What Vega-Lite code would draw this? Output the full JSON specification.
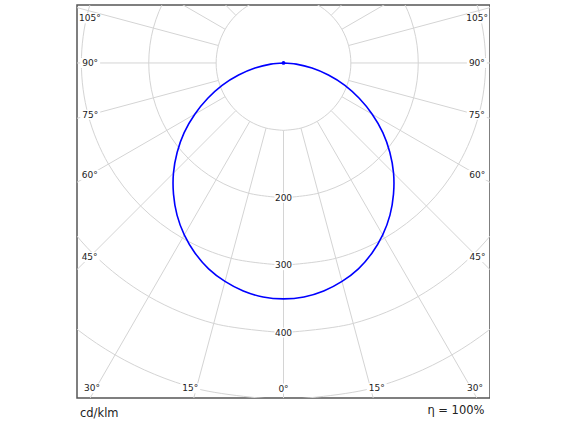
{
  "$schema": "https://vega.github.io/schema/vega-lite/v6.json",
  "width": 413,
  "height": 393,
  "padding": {"left": 77, "top": 5, "right": 0, "bottom": 0},
  "autosize": {"type": "pad"},
  "background": "white",
  "title": {
    "text": "cd/klm",
    "orient": "bottom",
    "anchor": "start",
    "dx": 3,
    "offset": -8,
    "font": "DejaVu Sans",
    "fontSize": 11.5,
    "fontWeight": "normal",
    "color": "#222222"
  },
  "datasets": {
    "curve": [
      {"a": -90, "cd": 0}, {"a": -85, "cd": 19}, {"a": -80, "cd": 43}, {"a": -75, "cd": 69},
      {"a": -70, "cd": 97}, {"a": -65, "cd": 124}, {"a": -60, "cd": 152}, {"a": -55, "cd": 180},
      {"a": -50, "cd": 206}, {"a": -45, "cd": 231}, {"a": -40, "cd": 254}, {"a": -35, "cd": 275.5},
      {"a": -30, "cd": 294.5}, {"a": -25, "cd": 311}, {"a": -20, "cd": 325}, {"a": -15, "cd": 335.5},
      {"a": -10, "cd": 343.5}, {"a": -5, "cd": 348.5}, {"a": 0, "cd": 350}, {"a": 5, "cd": 348.5},
      {"a": 10, "cd": 343.5}, {"a": 15, "cd": 335.5}, {"a": 20, "cd": 325}, {"a": 25, "cd": 311},
      {"a": 30, "cd": 294.5}, {"a": 35, "cd": 275.5}, {"a": 40, "cd": 254}, {"a": 45, "cd": 231},
      {"a": 50, "cd": 206}, {"a": 55, "cd": 180}, {"a": 60, "cd": 152}, {"a": 65, "cd": 124},
      {"a": 70, "cd": 97}, {"a": 75, "cd": 69}, {"a": 80, "cd": 43}, {"a": 85, "cd": 19},
      {"a": 90, "cd": 0}
    ],
    "rings": [
      {"r": 100, "a": [0, 15, 30, 45, 60, 75, 90, 105, 120, 135, 150, 165, 180, 195, 210, 225, 240, 255, 270, 285, 300, 315, 330, 345, 360]},
      {"r": 200, "a": [0, 15, 30, 45, 60, 75, 90, 105, 120, 135, 150, 165, 180, 195, 210, 225, 240, 255, 270, 285, 300, 315, 330, 345, 360]},
      {"r": 300, "a": [0, 15, 30, 45, 60, 75, 90, 105, 120, 135, 150, 165, 180, 195, 210, 225, 240, 255, 270, 285, 300, 315, 330, 345, 360]},
      {"r": 400, "a": [0, 15, 30, 45, 60, 75, 90, 105, 120, 135, 150, 165, 180, 195, 210, 225, 240, 255, 270, 285, 300, 315, 330, 345, 360]},
      {"r": 500, "a": [0, 15, 30, 45, 60, 75, 90, 105, 120, 135, 150, 165, 180, 195, 210, 225, 240, 255, 270, 285, 300, 315, 330, 345, 360]}
    ],
    "spokes": [
      {"a": 0, "r": [100, 700]}, {"a": 15, "r": [100, 700]}, {"a": 30, "r": [100, 700]},
      {"a": 45, "r": [100, 700]}, {"a": 60, "r": [100, 700]}, {"a": 75, "r": [100, 700]},
      {"a": 90, "r": [100, 700]}, {"a": 105, "r": [100, 700]}, {"a": 120, "r": [100, 700]},
      {"a": 135, "r": [100, 700]}, {"a": 150, "r": [100, 700]}, {"a": 165, "r": [100, 700]},
      {"a": 180, "r": [100, 700]}, {"a": 195, "r": [100, 700]}, {"a": 210, "r": [100, 700]},
      {"a": 225, "r": [100, 700]}, {"a": 240, "r": [100, 700]}, {"a": 255, "r": [100, 700]},
      {"a": 270, "r": [100, 700]}, {"a": 285, "r": [100, 700]}, {"a": 300, "r": [100, 700]},
      {"a": 315, "r": [100, 700]}, {"a": 330, "r": [100, 700]}, {"a": 345, "r": [100, 700]}
    ],
    "angleLabels": [
      {"text": "105°", "a": -103, "r": 295}, {"text": "90°", "a": -90, "r": 287},
      {"text": "75°", "a": -75, "r": 297}, {"text": "60°", "a": -60, "r": 332},
      {"text": "45°", "a": -45, "r": 407}, {"text": "30°", "a": -30.5, "r": 560},
      {"text": "15°", "a": -16, "r": 502}, {"text": "0°", "a": 0, "r": 483},
      {"text": "15°", "a": 16, "r": 502}, {"text": "30°", "a": 30.5, "r": 560},
      {"text": "45°", "a": 45, "r": 407}, {"text": "60°", "a": 60, "r": 332},
      {"text": "75°", "a": 75, "r": 297}, {"text": "90°", "a": 90, "r": 287},
      {"text": "105°", "a": 103, "r": 295}
    ],
    "radiusLabels": [
      {"text": "200", "a": 0, "r": 200},
      {"text": "300", "a": 0, "r": 300},
      {"text": "400", "a": 0, "r": 400}
    ]
  },
  "encoding": {
    "x": {
      "field": "x",
      "type": "quantitative",
      "scale": {"domain": [-306.5, 306.5], "nice": false, "zero": false},
      "axis": {
        "title": "η = 100%",
        "titleAnchor": "end",
        "titleAlign": "right",
        "titleX": 407,
        "labels": false,
        "ticks": false,
        "domain": false,
        "grid": false,
        "titleFont": "DejaVu Sans",
        "titleFontSize": 11.5,
        "titleFontWeight": "normal",
        "titleColor": "#222222",
        "titlePadding": 6
      }
    },
    "y": {
      "field": "y",
      "type": "quantitative",
      "scale": {"domain": [-497, 86], "nice": false, "zero": false},
      "axis": null
    }
  },
  "layer": [
    {
      "data": {"name": "rings"},
      "transform": [
        {"flatten": ["a"]},
        {"calculate": "datum.r * sin(datum.a * PI / 180)", "as": "x"},
        {"calculate": "-datum.r * cos(datum.a * PI / 180)", "as": "y"}
      ],
      "mark": {"type": "line", "clip": true, "stroke": "#d4d4d4", "strokeWidth": 1, "interpolate": "catmull-rom"},
      "encoding": {
        "detail": {"field": "r", "type": "nominal"},
        "order": {"field": "a", "type": "quantitative"}
      }
    },
    {
      "data": {"name": "spokes"},
      "transform": [
        {"flatten": ["r"]},
        {"calculate": "datum.r * sin(datum.a * PI / 180)", "as": "x"},
        {"calculate": "-datum.r * cos(datum.a * PI / 180)", "as": "y"}
      ],
      "mark": {"type": "line", "clip": true, "stroke": "#d4d4d4", "strokeWidth": 1},
      "encoding": {
        "detail": {"field": "a", "type": "nominal"},
        "order": {"field": "r", "type": "quantitative"}
      }
    },
    {
      "data": {"name": "curve"},
      "transform": [
        {"calculate": "datum.cd * sin(datum.a * PI / 180)", "as": "x"},
        {"calculate": "-datum.cd * cos(datum.a * PI / 180)", "as": "y"}
      ],
      "mark": {"type": "line", "clip": true, "stroke": "#0000ff", "strokeWidth": 1.6, "interpolate": "catmull-rom"},
      "encoding": {
        "order": {"field": "a", "type": "quantitative"}
      }
    },
    {
      "data": {"name": "curve"},
      "transform": [
        {"filter": "datum.a == 90"},
        {"calculate": "datum.cd * sin(datum.a * PI / 180)", "as": "x"},
        {"calculate": "-datum.cd * cos(datum.a * PI / 180)", "as": "y"}
      ],
      "mark": {"type": "point", "filled": true, "color": "#0000ff", "size": 14, "opacity": 1}
    },
    {
      "data": {"name": "angleLabels"},
      "transform": [
        {"calculate": "datum.r * sin(datum.a * PI / 180)", "as": "x"},
        {"calculate": "-datum.r * cos(datum.a * PI / 180)", "as": "y"}
      ],
      "mark": {"type": "point", "filled": true, "color": "white", "opacity": 1, "shape": "M-1,-0.5H1V0.5H-1Z", "size": 400}
    },
    {
      "data": {"name": "radiusLabels"},
      "transform": [
        {"calculate": "datum.r * sin(datum.a * PI / 180)", "as": "x"},
        {"calculate": "-datum.r * cos(datum.a * PI / 180)", "as": "y"}
      ],
      "mark": {"type": "point", "filled": true, "color": "white", "opacity": 1, "shape": "M-1,-0.55H1V0.55H-1Z", "size": 324}
    },
    {
      "data": {"name": "angleLabels"},
      "transform": [
        {"calculate": "datum.r * sin(datum.a * PI / 180)", "as": "x"},
        {"calculate": "-datum.r * cos(datum.a * PI / 180)", "as": "y"}
      ],
      "mark": {"type": "text", "font": "DejaVu Sans", "fontSize": 9, "color": "#222222", "align": "center", "baseline": "middle"},
      "encoding": {"text": {"field": "text"}}
    },
    {
      "data": {"name": "radiusLabels"},
      "transform": [
        {"calculate": "datum.r * sin(datum.a * PI / 180)", "as": "x"},
        {"calculate": "-datum.r * cos(datum.a * PI / 180)", "as": "y"}
      ],
      "mark": {"type": "text", "font": "DejaVu Sans", "fontSize": 9, "color": "#222222", "align": "center", "baseline": "middle"},
      "encoding": {"text": {"field": "text"}}
    }
  ],
  "config": {
    "view": {"stroke": "#555555", "strokeWidth": 1.5}
  }
}
